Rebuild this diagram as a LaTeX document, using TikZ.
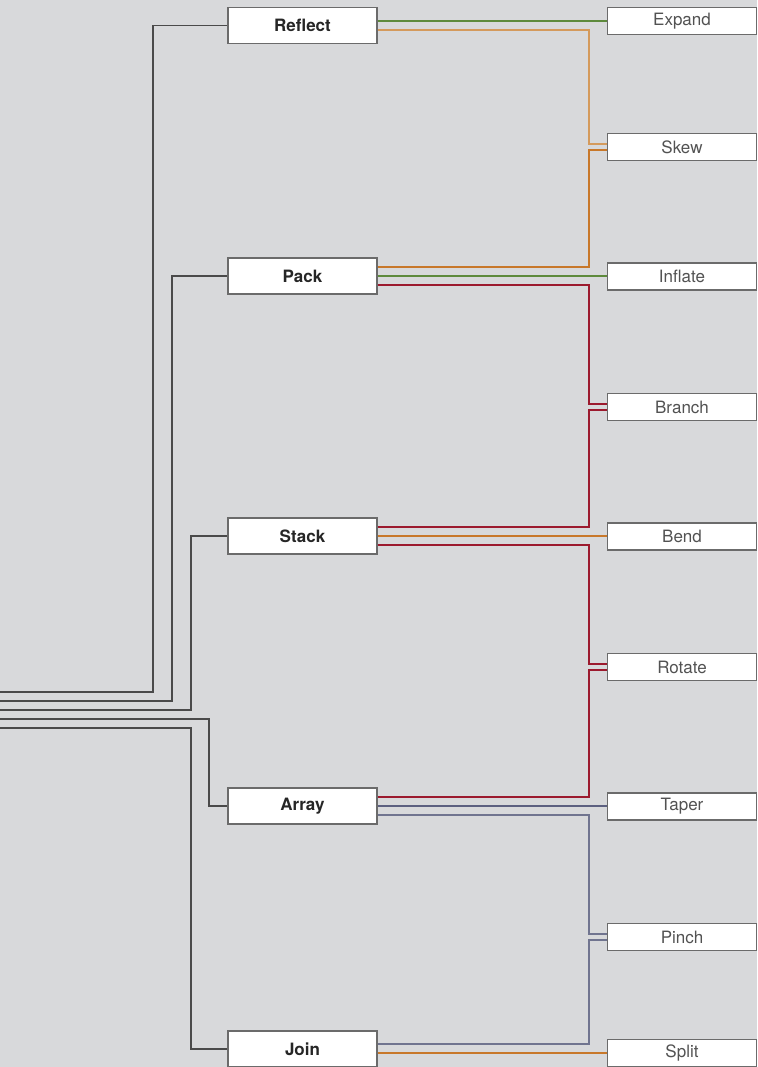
\documentclass[tikz,border=0pt]{standalone}
\usepackage{fontspec}
\setmainfont{TeX Gyre Heros}
\definecolor{bg}{HTML}{D8D9DB}
\definecolor{cgreen}{HTML}{5E8A3C}
\definecolor{corangeL}{HTML}{D49A5C}
\definecolor{corange}{HTML}{C8782A}
\definecolor{cred}{HTML}{9C1A2E}
\definecolor{cslate}{HTML}{5C6080}
\definecolor{cslateL}{HTML}{70748F}
\definecolor{cgray}{HTML}{4A4A4A}
\definecolor{bordergray}{HTML}{6B6B6B}
\begin{document}
\begin{tikzpicture}[x=1pt,y=-1pt,
  opbox/.style={draw=bordergray,line width=1.1pt,fill=white,minimum width=149pt,minimum height=36pt,inner sep=0pt,
    font=\fontsize{17}{19}\selectfont\bfseries,text=black!85},
  leafbox/.style={draw=bordergray,line width=1.1pt,fill=white,minimum width=149pt,minimum height=27pt,inner sep=0pt,
    font=\fontsize{17}{19}\selectfont,text=black!68},
  feed/.style={draw=cgray,line width=1.1pt},
  link/.style={line width=2pt}]
\fill[bg] (0,0) rectangle (757,1067);
\useasboundingbox (0,0) rectangle (757,1067);

% left operation boxes
\node[opbox] (reflect) at (302.5,25.5) {Reflect};
\node[opbox] (pack) at (302.5,276) {Pack};
\node[opbox] (stack) at (302.5,536) {Stack};
\node[opbox] (array) at (302.5,806) {Array};
\node[opbox] (join) at (302.5,1049) {Join};

% right leaf boxes
\node[leafbox] (expand) at (682,21) {Expand};
\node[leafbox] (skew) at (682,147) {Skew};
\node[leafbox] (inflate) at (682,276.5) {Inflate};
\node[leafbox] (branch) at (682,407) {Branch};
\node[leafbox] (bend) at (682,536.5) {Bend};
\node[leafbox] (rotate) at (682,667) {Rotate};
\node[leafbox] (taper) at (682,806.5) {Taper};
\node[leafbox] (pinch) at (682,937) {Pinch};
\node[leafbox] (split) at (682,1053) {Split};

% feeds from the left edge
\coordinate (inReflect) at (0,692);
\coordinate (inPack) at (0,701);
\coordinate (inStack) at (0,710);
\coordinate (inArray) at (0,719);
\coordinate (inJoin) at (0,728);
\draw[feed] (inReflect) -- (153,692) |- (reflect.west);
\draw[feed] (inPack) -- (172,701) |- (pack.west);
\draw[feed] (inStack) -- (191,710) |- (stack.west);
\draw[feed] (inArray) -- (209,719) |- (array.west);
\draw[feed] (inJoin) -- (191,728) |- (join.west);

% Reflect
\draw[link,cgreen] (reflect.east |- expand.west) -- (expand.west);
\draw[link,corangeL] ([yshift=-4.5pt]reflect.east) -- ++(211.5,0) |- ([yshift=3pt]skew.west);
% Pack
\draw[link,corange] ([yshift=9pt]pack.east) -- ++(211.5,0) |- ([yshift=-3pt]skew.west);
\draw[link,cgreen] (pack.east) -- (pack.east -| inflate.west);
\draw[link,cred] ([yshift=-9pt]pack.east) -- ++(211.5,0) |- ([yshift=3pt]branch.west);
% Stack
\draw[link,cred] ([yshift=9pt]stack.east) -- ++(211.5,0) |- ([yshift=-3pt]branch.west);
\draw[link,corange] (stack.east) -- (stack.east -| bend.west);
\draw[link,cred] ([yshift=-9pt]stack.east) -- ++(211.5,0) |- ([yshift=3pt]rotate.west);
% Array
\draw[link,cred] ([yshift=9pt]array.east) -- ++(211.5,0) |- ([yshift=-3pt]rotate.west);
\draw[link,cslate] (array.east) -- (array.east -| taper.west);
\draw[link,cslateL] ([yshift=-9pt]array.east) -- ++(211.5,0) |- ([yshift=3pt]pinch.west);
% Join
\draw[link,cslateL] ([yshift=5pt]join.east) -- ++(211.5,0) |- ([yshift=-3pt]pinch.west);
\draw[link,corange] ([yshift=-4pt]join.east) -- ([yshift=-4pt]join.east -| split.west);
\end{tikzpicture}
\end{document}
